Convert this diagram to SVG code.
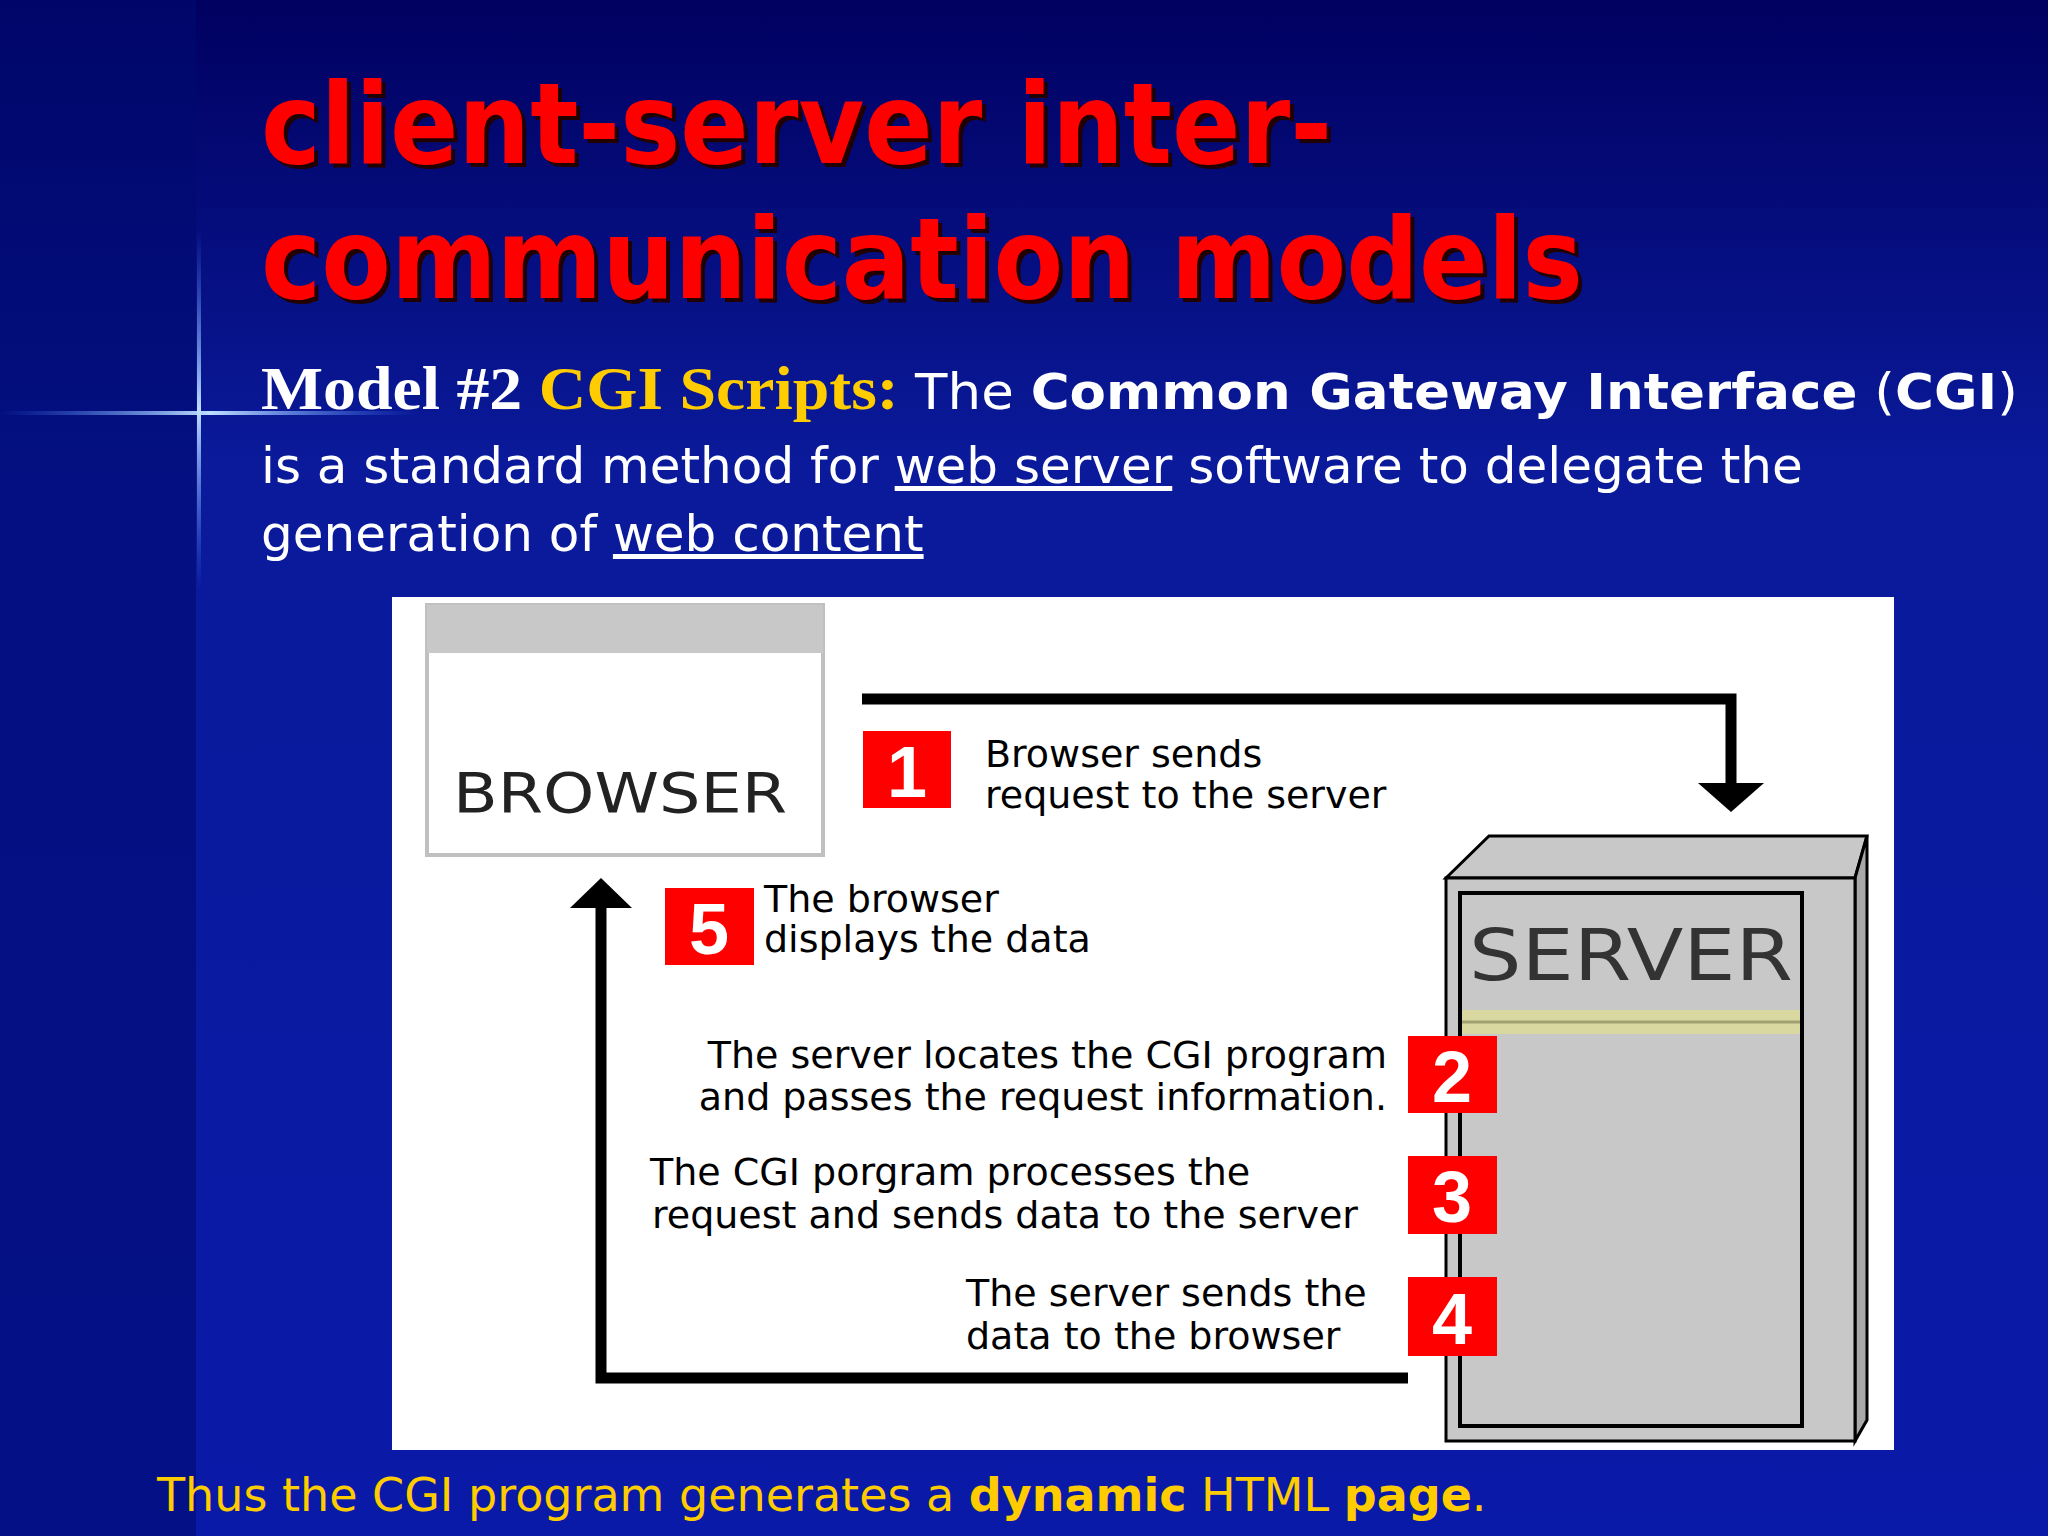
<svg xmlns="http://www.w3.org/2000/svg" width="2048" height="1536" viewBox="0 0 2048 1536">
<defs>
<linearGradient id="bg" x1="0" y1="0" x2="0" y2="1"><stop offset="0" stop-color="#000060"/><stop offset="0.3" stop-color="#0a1a9a"/><stop offset="1" stop-color="#0a1aa8"/></linearGradient>
<linearGradient id="fl" x1="0" x2="1"><stop offset="0" stop-color="#4080ff" stop-opacity="0"/><stop offset="0.5" stop-color="#c0e0ff"/><stop offset="1" stop-color="#4080ff" stop-opacity="0"/></linearGradient>
<linearGradient id="fv" x1="0" y1="0" x2="0" y2="1"><stop offset="0" stop-color="#4080ff" stop-opacity="0"/><stop offset="0.5" stop-color="#c0e0ff"/><stop offset="1" stop-color="#4080ff" stop-opacity="0"/></linearGradient>
<style>
.t{font-family:"DejaVu Sans",Verdana,sans-serif;font-weight:bold;font-size:112px;fill:#ff0000}
.sh{font-family:"DejaVu Sans",Verdana,sans-serif;font-weight:bold;font-size:112px;fill:#200000}
.b{font-family:"DejaVu Sans",Tahoma,sans-serif;font-size:50px;fill:#fff}
.d{font-family:"DejaVu Sans",sans-serif;font-size:38px;fill:#000}
.n{font-family:"Liberation Sans",Arial,sans-serif;font-weight:bold;font-size:72px;fill:#fff;text-anchor:middle}
.red{fill:#ff0000}
.ln{fill:none;stroke:#000;stroke-width:11}
</style>
</defs>
<rect width="2048" height="1536" fill="url(#bg)"/>
<rect width="196" height="1536" fill="#000a70" opacity="0.6"/>
<rect x="0" y="411" width="420" height="4" fill="url(#fl)"/>
<rect x="197" y="230" width="4" height="360" fill="url(#fv)"/>
<g id="title">
<text class="sh" x="265" y="167" textLength="1071" lengthAdjust="spacingAndGlyphs">client-server inter-</text>
<text class="t" x="261" y="163" textLength="1071" lengthAdjust="spacingAndGlyphs">client-server inter-</text>
<text class="sh" x="265" y="302" textLength="1322" lengthAdjust="spacingAndGlyphs">communication models</text>
<text class="t" x="261" y="298" textLength="1322" lengthAdjust="spacingAndGlyphs">communication models</text>
</g>
<g id="desc">
<text x="261" y="409" textLength="1757" lengthAdjust="spacingAndGlyphs"><tspan font-family="Liberation Serif,serif" font-weight="bold" font-size="62" fill="#fff">Model #2 </tspan><tspan font-family="Liberation Serif,serif" font-weight="bold" font-size="62" fill="#ffcc00">CGI Scripts: </tspan><tspan class="b">The </tspan><tspan class="b" font-weight="bold">Common Gateway Interface</tspan><tspan class="b"> (</tspan><tspan class="b" font-weight="bold">CGI</tspan><tspan class="b">)</tspan></text>
<text class="b" x="261" y="483">is a standard method for <tspan text-decoration="underline">web server</tspan> software to delegate the</text>
<text class="b" x="261" y="551">generation of <tspan text-decoration="underline">web content</tspan></text>
</g>
<rect x="392" y="597" width="1502" height="853" fill="#fff"/>
<g id="browser">
<rect x="427" y="605" width="396" height="250" fill="#fff" stroke="#c0c0c0" stroke-width="4"/>
<rect x="427" y="605" width="396" height="48" fill="#c8c8c8"/>
<text x="453" y="812" font-family="DejaVu Sans,sans-serif" font-size="56" fill="#222" textLength="334" lengthAdjust="spacingAndGlyphs">BROWSER</text>
</g>
<g id="server">
<polygon points="1446,878 1489,836 1867,836 1855,878" fill="#c8c8c8" stroke="#000" stroke-width="3"/>
<polygon points="1855,878 1867,836 1867,1420 1855,1441" fill="#a8a8a8" stroke="#000" stroke-width="3"/>
<rect x="1446" y="878" width="409" height="563" fill="#c8c8c8" stroke="#000" stroke-width="3"/>
<rect x="1460" y="893" width="342" height="533" fill="none" stroke="#000" stroke-width="4"/>
<rect x="1462" y="1010" width="338" height="24" fill="#d8d8a0"/>
<line x1="1462" y1="1022" x2="1800" y2="1022" stroke="#a0a070" stroke-width="3"/>
<text x="1469" y="980" font-family="DejaVu Sans,sans-serif" font-size="72" fill="#333" textLength="324" lengthAdjust="spacingAndGlyphs">SERVER</text>
</g>
<g id="connectors">
<polyline class="ln" points="862,699 1731,699 1731,785"/>
<polygon points="1698,783 1764,783 1731,812"/>
<polyline class="ln" points="1408,1378 601,1378 601,905"/>
<polygon points="570,908 632,908 601,878"/>
</g>
<g id="s1"><rect class="red" x="863" y="731" width="88" height="77"/><text class="n" x="907" y="797">1</text>
<text class="d" x="985" y="767">Browser sends</text><text class="d" x="985" y="808">request to the server</text></g>
<g id="s5"><rect class="red" x="665" y="888" width="89" height="77"/><text class="n" x="709" y="954">5</text>
<text class="d" x="764" y="912">The browser</text><text class="d" x="764" y="952">displays the data</text></g>
<g id="s2"><rect class="red" x="1408" y="1036" width="89" height="77"/><text class="n" x="1452" y="1102">2</text>
<text class="d" x="1387" y="1068" text-anchor="end">The server locates the CGI program</text><text class="d" x="1387" y="1110" text-anchor="end">and passes the request information.</text></g>
<g id="s3"><rect class="red" x="1408" y="1156" width="89" height="78"/><text class="n" x="1452" y="1222">3</text>
<text class="d" x="650" y="1185">The CGI porgram processes the</text><text class="d" x="652" y="1228">request and sends data to the server</text></g>
<g id="s4"><rect class="red" x="1408" y="1277" width="89" height="79"/><text class="n" x="1452" y="1344">4</text>
<text class="d" x="966" y="1306">The server sends the</text><text class="d" x="966" y="1349">data to the browser</text></g>
<text x="157" y="1511" font-family="DejaVu Sans,sans-serif" font-size="46" fill="#ffcc00">Thus the CGI program generates a <tspan font-weight="bold">dynamic</tspan> HTML <tspan font-weight="bold">page</tspan>.</text>
</svg>
